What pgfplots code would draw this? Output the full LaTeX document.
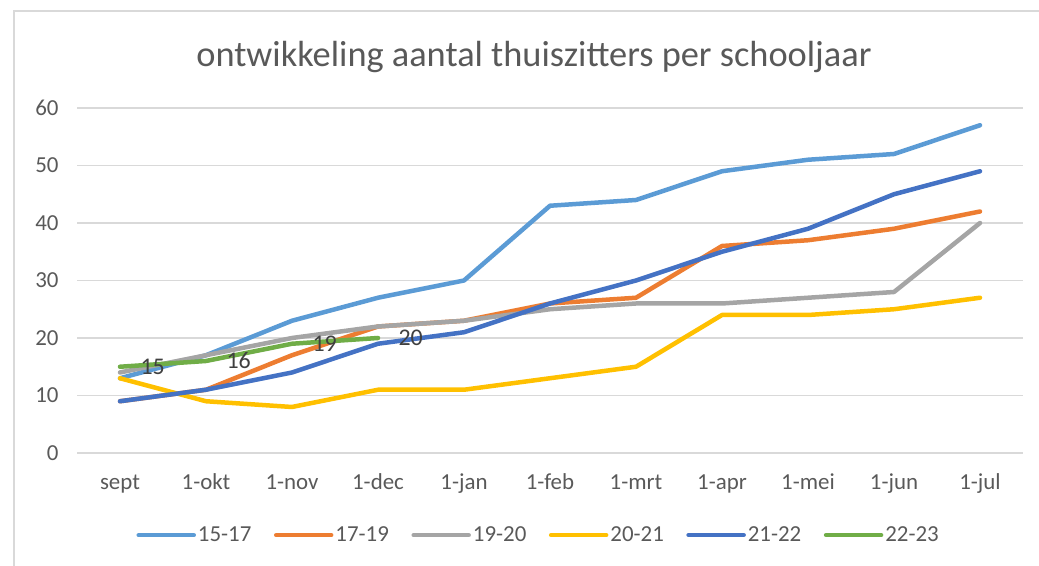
\documentclass[border=0pt]{standalone}
\usepackage{fontspec}
\setmainfont{Carlito}
\usepackage{pgfplots}
\pgfplotsset{compat=1.18}

\definecolor{c1517}{HTML}{5B9BD5}
\definecolor{c1719}{HTML}{ED7D31}
\definecolor{c1920}{HTML}{A5A5A5}
\definecolor{c2021}{HTML}{FFC000}
\definecolor{c2122}{HTML}{4472C4}
\definecolor{c2223}{HTML}{70AD47}
\definecolor{txtgray}{HTML}{595959}
\definecolor{gridgray}{HTML}{D9D9D9}

\begin{document}
\begin{tikzpicture}[x=1bp,y=1bp]
\path[use as bounding box] (0,0) rectangle (1039,566);
% chart frame (only top and left edges are in view)
\draw[gridgray, line width=1.5bp] (14,0) -- (14,555) -- (1039,555);
\node[font=\fontsize{36.5}{42}\selectfont, text=txtgray] at (534,509) {ontwikkeling aantal thuiszitters per schooljaar};

\begin{axis}[
    at={(77bp,113bp)}, anchor=south west,
    scale only axis, width=946bp, height=345bp,
    xmin=-0.5, xmax=10.5, ymin=0, ymax=60,
    xtick={0,...,10},
    xticklabels={sept,1-okt,1-nov,1-dec,1-jan,1-feb,1-mrt,1-apr,1-mei,1-jun,1-jul},
    ytick={0,10,...,60},
    ymajorgrids, major grid style={gridgray, line width=1.3bp},
    axis line style={draw=none},
    major tick length=0pt,
    /pgf/number format/assume math mode=true,
    tick label style={font=\fontsize{23}{27}\selectfont, text=txtgray},
    xticklabel style={anchor=base, yshift=-37bp},
    yticklabel style={anchor=east, xshift=-15bp},
    legend columns=6,
    legend style={draw=none, fill=none, at={(0.488,-0.238)}, anchor=center,
        font=\fontsize{23}{27}\selectfont, text=txtgray,
        nodes={inner xsep=2bp, inner ysep=1bp},
        /tikz/every even column/.append style={column sep=20.5bp}},
    legend image code/.code={\draw[#1, line cap=round] (0bp,0bp) -- (55bp,0bp);},
    every axis plot/.append style={line width=4.5bp, line join=round, line cap=round},
]
\addplot[c1517] coordinates {(0,13) (1,17) (2,23) (3,27) (4,30) (5,43) (6,44) (7,49) (8,51) (9,52) (10,57)};
\addplot[c1719] coordinates {(0,9) (1,11) (2,17) (3,22) (4,23) (5,26) (6,27) (7,36) (8,37) (9,39) (10,42)};
\addplot[c1920] coordinates {(0,14) (1,17) (2,20) (3,22) (4,23) (5,25) (6,26) (7,26) (8,27) (9,28) (10,40)};
\addplot[c2021] coordinates {(0,13) (1,9) (2,8) (3,11) (4,11) (5,13) (6,15) (7,24) (8,24) (9,25) (10,27)};
\addplot[c2122] coordinates {(0,9) (1,11) (2,14) (3,19) (4,21) (5,26) (6,30) (7,35) (8,39) (9,45) (10,49)};
\addplot[c2223, nodes near coords,
    every node near coord/.style={anchor=west, xshift=15bp, yshift=0bp,
        font=\fontsize{24}{28}\selectfont, text=black!75}]
    coordinates {(0,15) (1,16) (2,19) (3,20)};
\legend{15-17,17-19,19-20,20-21,21-22,22-23}
\end{axis}
\end{tikzpicture}
\end{document}
